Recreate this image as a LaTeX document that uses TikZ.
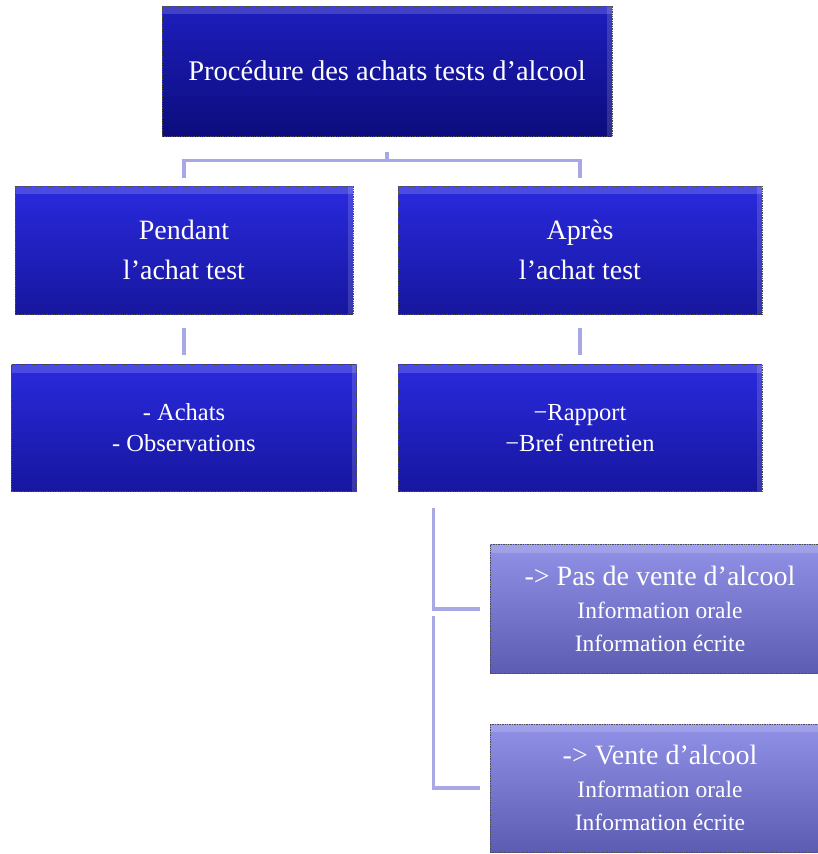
\documentclass[tikz,border=0pt]{standalone}
\usepackage{fontspec}
\setmainfont{Liberation Serif}
\usepackage{tikz}
\usetikzlibrary{calc, positioning}

\definecolor{boxtop}{RGB}{42,42,222}
\definecolor{boxbot}{RGB}{22,22,158}
\definecolor{titletop}{RGB}{30,30,190}
\definecolor{titlebot}{RGB}{12,12,125}
\definecolor{paletop}{RGB}{145,145,232}
\definecolor{palebot}{RGB}{92,92,178}
\definecolor{linkcol}{RGB}{168,168,228}

\tikzset{
  box/.style={rectangle, draw=black!70, densely dotted, line width=0.7pt,
    top color=boxtop, bottom color=boxbot, text=white, align=center,
    inner sep=0pt,
    path picture={
      \fill[white,opacity=0.16] (path picture bounding box.north west)
        rectangle ([yshift=-8pt]path picture bounding box.north east);
      \fill[white,opacity=0.14] ([xshift=-5pt]path picture bounding box.north east)
        rectangle (path picture bounding box.south east);}},
  titlebox/.style={box, top color=titletop, bottom color=titlebot},
  palebox/.style={box, top color=paletop, bottom color=palebot},
  link/.style={draw=linkcol, line width=3.5pt}
}

\begin{document}
\begin{tikzpicture}[x=1pt,y=-1pt]
      \useasboundingbox (0,0) rectangle (817,854);
      \node[titlebox, minimum width=450pt, minimum height=130pt,
        font=\fontsize{28.5}{34}\selectfont] (title) at (387,71)
        {Procédure des achats tests d’alcool};
      \node[box, minimum width=338pt, minimum height=128pt,
        font=\fontsize{28}{40}\selectfont] (pend) at (184,250)
        {Pendant\\ l’achat test};
      \node[box, minimum width=364pt, minimum height=128pt,
        font=\fontsize{28}{40}\selectfont] (apres) at (580,250)
        {Après\\ l’achat test};
      \node[box, minimum width=345pt, minimum height=127pt,
        font=\fontsize{24.5}{31}\selectfont] (achats) at (184,428)
        {- Achats\\ - Observations};
      \node[box, minimum width=364pt, minimum height=127pt,
        font=\fontsize{24.5}{31}\selectfont] (rapport) at (580,428)
        {−Rapport\\ −Bref entretien};
      \node[palebox, minimum width=340pt, minimum height=129pt,
        font=\fontsize{23.5}{33}\selectfont] (pasvente) at (660,609)
        {{\fontsize{28}{34}\selectfont -> Pas de vente d’alcool}\\
         Information orale\\ Information écrite};
      \node[palebox, minimum width=340pt, minimum height=128pt,
        font=\fontsize{23.5}{33}\selectfont] (vente) at (660,788)
        {{\fontsize{28}{34}\selectfont -> Vente d’alcool}\\
         Information orale\\ Information écrite};
      % bracket under the title
      \draw[link] ([yshift=-16pt]title.south) -- ++(0,8) -| ([yshift=8pt]pend.north);
      \draw[link] ([yshift=-16pt]title.south) -- ++(0,8) -| ([yshift=8pt]apres.north);
      % vertical lines
      \draw[link] ([yshift=-14pt]pend.south) -- ([yshift=9pt]achats.north);
      \draw[link] ([yshift=-14pt]apres.south) -- ([yshift=9pt]rapport.north);
      % elbows to the outcomes
      \draw[link] ([xshift=36pt,yshift=-16pt]rapport.south west) |- ([xshift=-10pt]pasvente.west);
      \draw[link] ([xshift=36pt,yshift=-124pt]rapport.south west) |- ([xshift=-10pt]vente.west);
    \end{tikzpicture}
\end{document}
